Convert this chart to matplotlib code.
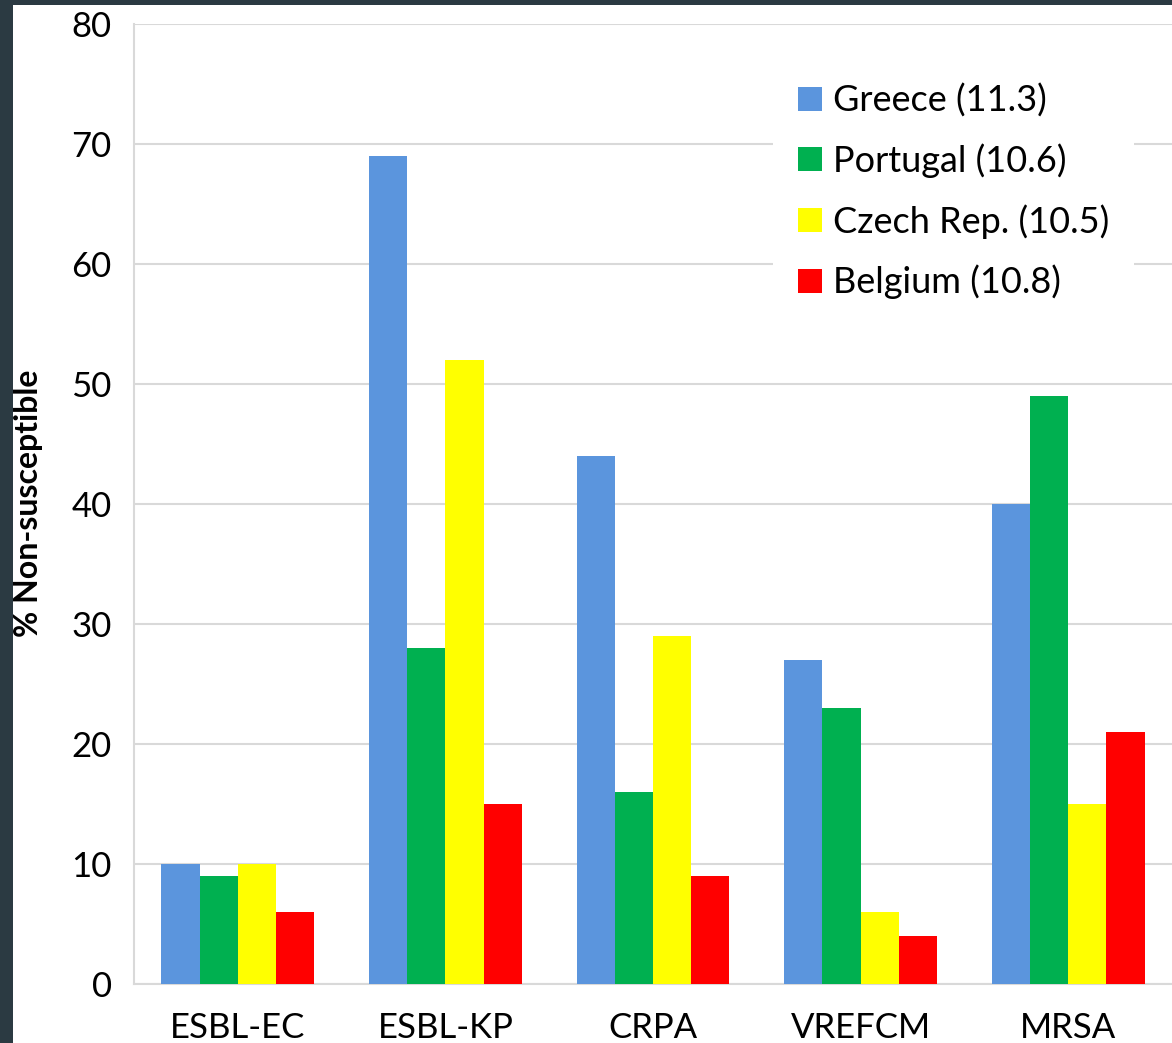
import matplotlib.pyplot as plt
import numpy as np
from matplotlib.patches import Rectangle

# Data
categories = ['ESBL-EC', 'ESBL-KP', 'CRPA', 'VREFCM', 'MRSA']
countries = ['Greece (11.3)', 'Portugal (10.6)', 'Czech Rep. (10.5)', 'Belgium (10.8)']
greece = [10, 69, 44, 27, 40]
portugal = [9, 28, 16, 23, 49]
czech = [10, 52, 29, 6, 15]
belgium = [6, 15, 9, 4, 21]
colors = ['#5b95dd', '#00b050', '#ffff00', '#ff0000']

plt.rcParams['font.family'] = ['Lato', 'DejaVu Sans']

fig = plt.figure(figsize=(11.72, 10.43), dpi=100, facecolor='#2b3a42')
# white page area inside the dark frame
fig.patches.append(Rectangle((13 / 1172, 0), 1, 1 - 5 / 1043, transform=fig.transFigure,
                             facecolor='white', edgecolor='none', zorder=-10))

ax = fig.add_axes([134 / 1172, 1 - 984 / 1043, 1 - 134 / 1172, (984 - 24) / 1043])
ax.set_zorder(2)
ax.set_facecolor('white')

x = np.arange(len(categories))
width = 0.184
series = [greece, portugal, czech, belgium]
for i, (vals, lab, col) in enumerate(zip(series, countries, colors)):
    ax.bar(x + (i - 1.5) * width, vals, width, color=col, label=lab, zorder=3)

ax.set_xlim(-0.5, len(categories) - 0.5)
ax.set_ylim(0, 80)
ax.set_yticks(np.arange(0, 81, 10))
ax.set_xticks(x)
ax.set_xticklabels(categories)
ax.tick_params(axis='both', length=0, labelsize=25)
ax.tick_params(axis='y', pad=16)
ax.tick_params(axis='x', pad=20)
ax.grid(axis='y', color='#d9d9d9', linewidth=1.5, zorder=0)
for s in ['top', 'right']:
    ax.spines[s].set_visible(False)
for s in ['left', 'bottom']:
    ax.spines[s].set_color('#d9d9d9')
    ax.spines[s].set_linewidth(1.5)

fig.text(29 / 1172, 1 - 503 / 1043, '% Non-susceptible', rotation=90, fontsize=23,
         fontweight='bold', ha='center', va='center', zorder=3)

leg = ax.legend(loc='upper left', bbox_to_anchor=(773 / 1172, 1 - 58 / 1043),
                bbox_transform=fig.transFigure, fontsize=26, frameon=True,
                handlelength=0.65, handleheight=0.65, handletextpad=0.3,
                labelspacing=0.72, borderpad=0.7, borderaxespad=0)
leg.get_frame().set_facecolor('white')
leg.get_frame().set_edgecolor('none')
leg.get_frame().set_alpha(1)

fig.savefig('out.png', dpi=100, facecolor=fig.get_facecolor())
